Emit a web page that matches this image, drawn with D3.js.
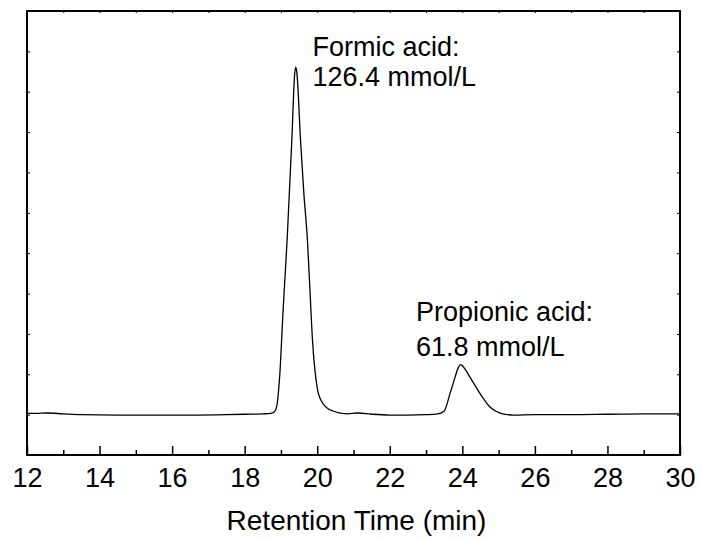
<!DOCTYPE html>
<html>
<head>
<meta charset="utf-8">
<script src="https://cdn.jsdelivr.net/npm/d3@7"></script>
<style>
	body { margin: 0; background: #fff; }
	#canvas { width: 702px; height: 541px; }
	text { font-family: "Liberation Sans", Arial, sans-serif; fill: #000; }
</style>
</head>
<body>
<div id="canvas"></div>
<script>
// retention time (min) and detector signal (arbitrary units)
var times = [12.0, 12.25, 12.54, 13.0, 13.5, 14.5, 15.5, 16.5, 17.5, 18.0, 18.5, 18.72, 18.82,
	18.88, 18.97, 19.06, 19.17, 19.30, 19.38, 19.41, 19.44, 19.54, 19.63, 19.73, 19.80, 19.87,
	19.92, 19.97, 20.02, 20.08, 20.17, 20.28, 20.43, 20.63, 20.85, 21.1, 21.5, 22.0, 22.5, 23.0, 23.33,
	23.50, 23.66, 23.80, 23.89, 23.96, 24.04, 24.21, 24.49, 24.76, 25.04, 25.40, 26.0, 27.0,
	28.0, 29.0, 30.0];
var signal = [1.03, 1.03, 1.04, 1.02, 1.00, 0.99, 0.99, 0.99, 1.00, 1.01, 1.02, 1.03, 1.07,
	1.19, 2.02, 3.60, 5.32, 7.80, 9.46, 9.61, 9.46, 7.80, 6.50, 5.32, 4.08, 2.84,
	2.25, 1.85, 1.57, 1.40, 1.26, 1.16, 1.09, 1.04, 1.02, 1.04, 1.01, 0.99, 0.99, 1.00, 1.02,
	1.09, 1.52, 1.93, 2.17, 2.24, 2.17, 1.93, 1.52, 1.19, 1.04, 0.99, 1.00, 1.00,
	1.01, 1.02, 1.02];

var xTicks = [12, 14, 16, 18, 20, 22, 24, 26, 28, 30];
var xMinorTicks = [13, 15, 17, 19, 21, 23, 25, 27, 29];
var yTicks = [1, 2, 3, 4, 5, 6, 7, 8, 9, 10];

var peakLabels = [
	["Formic acid:", "126.4 mmol/L"],
	["Propionic acid:", "61.8 mmol/L"]
];

var w = 702, h = 541;
var margin = {top: 11, right: 22, bottom: 86, left: 27};

var svg = d3.select("#canvas")
	.append("svg")
	.attr("width", w)
	.attr("height", h);

var x = d3.scaleLinear()
	.domain([12, 30])
	.range([margin.left, w - margin.right]);

var y = d3.scaleLinear()
	.domain([0, 11])
	.range([h - margin.bottom, margin.top]);

// bottom axis, major ticks with labels, pointing inward
var bottomAxis = svg.append("g")
	.attr("transform", "translate(0," + y(0) + ")")
	.call(d3.axisBottom(x)
		.tickValues(xTicks)
		.tickSizeInner(-9)
		.tickSizeOuter(0)
		.tickPadding(13)
		.tickFormat(d3.format("d")));
bottomAxis.attr("font-size", 27).attr("font-family", null);
bottomAxis.select(".domain").remove();
bottomAxis.selectAll("line").attr("stroke", "#000").attr("stroke-width", 1.5);

var bottomMinor = svg.append("g")
	.attr("transform", "translate(0," + y(0) + ")")
	.call(d3.axisBottom(x)
		.tickValues(xMinorTicks)
		.tickSizeInner(-5)
		.tickSizeOuter(0)
		.tickFormat(""));
bottomMinor.select(".domain").remove();
bottomMinor.selectAll("line").attr("stroke", "#000").attr("stroke-width", 1.5);

// small ticks on the other three sides
var topAxis = svg.append("g")
	.attr("transform", "translate(0," + y(11) + ")")
	.call(d3.axisTop(x)
		.tickValues(xTicks.concat(xMinorTicks))
		.tickSizeInner(-2)
		.tickSizeOuter(0)
		.tickFormat(""));
topAxis.select(".domain").remove();

var leftAxis = svg.append("g")
	.attr("transform", "translate(" + x(12) + ",0)")
	.call(d3.axisLeft(y)
		.tickValues(yTicks)
		.tickSizeInner(-3)
		.tickSizeOuter(0)
		.tickFormat(""));
leftAxis.select(".domain").remove();

var rightAxis = svg.append("g")
	.attr("transform", "translate(" + x(30) + ",0)")
	.call(d3.axisRight(y)
		.tickValues(yTicks)
		.tickSizeInner(-3)
		.tickSizeOuter(0)
		.tickFormat(""));
rightAxis.select(".domain").remove();

// frame
svg.append("rect")
	.attr("x", x(12))
	.attr("y", y(11))
	.attr("width", x(30) - x(12))
	.attr("height", y(0) - y(11))
	.attr("fill", "none")
	.attr("stroke", "#000")
	.attr("stroke-width", 2);

// chromatogram trace
var points = times.map(function(t, i){ return [t, signal[i]]; });
var line = d3.line()
	.x(function(d){ return x(d[0]); })
	.y(function(d){ return y(d[1]); })
	.curve(d3.curveMonotoneX);

svg.append("path")
	.datum(points)
	.attr("d", line)
	.attr("fill", "none")
	.attr("stroke", "#000")
	.attr("stroke-width", 1.3);

// peak annotations
var labelPos = [
	{x: x(19.87), y: 56, dy: 30},
	{x: x(22.72), y: 321, dy: 35}
];
peakLabels.forEach(function(lines, i){
	var p = labelPos[i];
	lines.forEach(function(s, j){
		svg.append("text")
			.attr("x", p.x)
			.attr("y", p.y + j * p.dy)
			.attr("font-size", 27)
			.text(s);
	});
});

// axis title
svg.append("text")
	.attr("x", (x(12) + x(30)) / 2 + 3)
	.attr("y", 530)
	.attr("text-anchor", "middle")
	.attr("font-size", 28)
	.text("Retention Time (min)");
</script>
</body>
</html>
